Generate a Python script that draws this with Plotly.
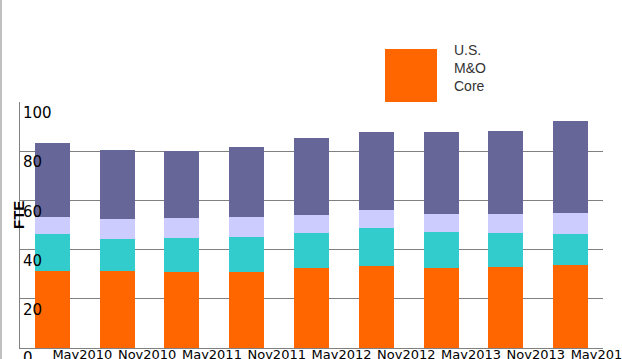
import plotly.graph_objects as go

categories = ["May2010", "Nov2010", "May2011", "Nov2011", "May2012",
              "Nov2012", "May2013", "Nov2013", "May2014"]
us_mo_core = [31.3, 31.4, 30.9, 30.9, 32.5, 33.3, 32.5, 32.9, 33.7]
series_teal = [15.0, 12.9, 13.8, 14.2, 14.2, 15.5, 14.7, 13.8, 12.6]
series_lavender = [6.9, 8.1, 8.1, 8.2, 7.4, 7.3, 7.3, 7.8, 8.6]
series_dark = [30.3, 28.1, 27.2, 28.5, 31.3, 31.7, 33.3, 33.7, 37.4]
y_ticks = [0, 20, 40, 60, 80, 100]
grid_ticks = [20, 40, 60, 80]

W, H = 622, 359
L, R, T, B = 20, 19, 102, 11
pw, ph = W - L - R, H - T - B

def px_x(x):
    return (x - L) / pw

def px_y(y):
    return (H - B - y) / ph

fig = go.Figure()
for name, vals, col in [("U.S. M&O Core", us_mo_core, "#FF6600"),
                        ("Series 2", series_teal, "#33CCCC"),
                        ("Series 3", series_lavender, "#CCCCFF"),
                        ("Series 4", series_dark, "#666699")]:
    fig.add_trace(go.Bar(x=categories, y=vals, name=name,
                         marker=dict(color=col, line=dict(width=0)),
                         showlegend=False))

# invisible trace to drive the label axis
fig.add_trace(go.Scatter(x=categories, y=[None] * len(categories),
                         mode="lines", yaxis="y2", showlegend=False,
                         hoverinfo="skip"))

fig.update_layout(
    width=W, height=H,
    margin=dict(l=L, r=R, t=T, b=B, pad=0, autoexpand=False),
    paper_bgcolor="white", plot_bgcolor="white",
    barmode="stack", bargap=0.46,
    xaxis=dict(type="category", range=[-0.5, len(categories) - 0.5],
               showgrid=False, showline=True,
               linecolor="#808080", linewidth=1, ticks="",
               tickangle=0, automargin=False,
               tickfont=dict(family="DejaVu Sans", size=13, color="black"),
               ticklabelshift=30, ticklabelstandoff=-6),
    yaxis=dict(range=[0, 100], tickvals=grid_ticks, showticklabels=False,
               showgrid=True, gridcolor="#808080", gridwidth=1,
               showline=True, linecolor="#808080", linewidth=1,
               zeroline=False, ticks="", automargin=False),
    yaxis2=dict(range=[0, 100], overlaying="y", side="left",
                tickvals=y_ticks, showgrid=False, zeroline=False,
                showline=False, ticks="", ticklabelposition="inside",
                ticklabelshift=11, automargin=False,
                tickfont=dict(family="DejaVu Sans", size=15, color="black")),
    shapes=[
        dict(type="rect", xref="paper", yref="paper",
             x0=px_x(385), x1=px_x(437), y0=px_y(102), y1=px_y(49),
             fillcolor="#FF6600", line=dict(width=0)),
        dict(type="line", xref="paper", yref="paper",
             x0=px_x(1), x1=px_x(1), y0=px_y(359), y1=px_y(0),
             line=dict(color="#808080", width=1)),
    ],
    annotations=[
        dict(text="U.S.<br>M&O<br>Core", xref="paper", yref="paper",
             x=px_x(452), y=px_y(68), xanchor="left", yanchor="middle",
             align="left", showarrow=False,
             font=dict(family="Liberation Sans", size=14, color="#333333")),
        dict(text="<b>FTE</b>", xref="paper", yref="paper",
             x=px_x(18), y=px_y(215), xanchor="center", yanchor="middle",
             textangle=-90, showarrow=False,
             font=dict(family="Liberation Sans", size=15, color="black")),
        dict(text=str(y_ticks[0]), xref="paper", yref="y", x=0, y=y_ticks[0],
             xanchor="left", yanchor="middle", yshift=-10, xshift=1,
             showarrow=False,
             font=dict(family="DejaVu Sans", size=15, color="black")),
    ],
)

fig.write_html("out.html",
               config={"displayModeBar": False},
               post_script="document.body.style.margin='0';"
                           "document.body.style.overflow='hidden';")
